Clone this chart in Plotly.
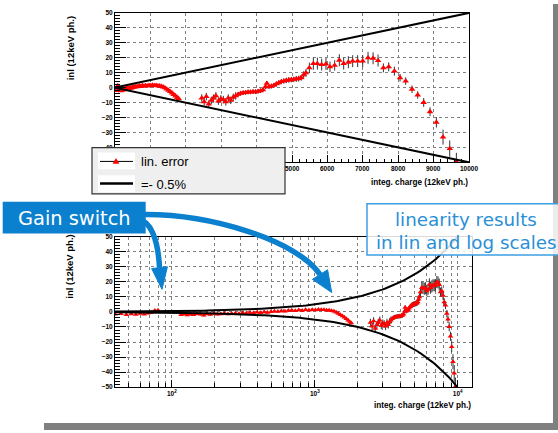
import numpy as np
import plotly.graph_objects as go

W, H = 558, 433

# ---------------- data ----------------
charge = [
    40, 44, 48, 52, 56, 60, 64, 68, 72, 76, 80,
    116, 122, 128, 135, 142, 150, 158, 167, 176, 186, 197, 208, 220, 233, 247,
    262, 278, 295, 313, 332, 352, 373, 395, 418, 442, 467, 494, 522, 552, 584,
    618, 653, 690, 730, 772, 816, 862, 910, 960, 1010, 1060, 1110, 1160, 1210,
    1260, 1310, 1360, 1410, 1460, 1510, 1560, 1610, 1660, 1710, 1760, 1800,
    2450, 2520, 2580, 2650, 2720, 2780, 2850, 2920, 2990, 3060, 3130, 3200,
    3270, 3340, 3410, 3480, 3550, 3620, 3690, 3760, 3830, 3900, 3970, 4040,
    4110, 4180, 4250, 4290, 4350, 4420, 4490, 4560, 4630, 4700, 4770, 4840,
    4910, 4980, 5050, 5120, 5190, 5260, 5330, 5394,
    5490, 5603, 5716, 5838, 5960, 6073, 6205, 6337, 6460, 6592, 6714, 6855,
    6997, 7148, 7290, 7431, 7582, 7732, 7892, 8052, 8212, 8391, 8551, 8720,
    8899, 9078, 9266, 9455, 9643,
]
inl = [
    -1.6, -1.2, -1.9, -1.4, -1.7, -1.1, -1.5, -0.9, -0.4, 0.9, 1.2,
    -1.8, -1.3, -2.0, -1.5, -1.9, -1.2, -1.6, -2.2, -1.4, -1.7, -1.1, -1.5, -1.3, -0.9, -1.4,
    -1.0, -0.8, -1.2, -0.6, -0.9, -0.4, -0.7, -0.2, -0.5, 0.0, -0.3, 0.2, 0.4, 0.3, 0.7,
    0.5, 0.9, 1.1, 0.8, 1.3, 1.0, 1.4, 1.2, 1.5, 1.3, 1.6, 1.4, 1.5, 1.2,
    1.1, 0.8, 0.4, -0.2, -1.0, -1.8, -2.7, -3.6, -4.6, -5.6, -6.6, -7.4,
    -7.0, -9.5, -6.0, -11.0, -8.5, -7.0, -5.5, -9.0, -7.5, -8.0, -9.5, -7.0,
    -8.5, -6.5, -5.5, -4.5, -3.8, -3.5, -3.3, -3.0, -3.0, -2.8, -2.8, -2.5,
    -2.2, -1.5, 0.5, 2.9, 0.5, 1.0, 1.5, 2.5, 3.3, 4.0, 4.4, 4.8,
    5.1, 5.3, 5.5, 5.8, 6.0, 6.6, 8.5, 9.9,
    13.2, 16.1, 16.1, 15.4, 15.8, 13.9, 14.9, 18.3, 16.1, 17.0, 17.7, 17.7,
    17.7, 19.9, 19.6, 18.1, 13.2, 13.9, 11.0, 6.6, 4.4, -1.1, -4.9, -9.9,
    -16.1, -23.2, -33.1, -40.8, -49.6,
]
inl_err = [
    0.6, 0.6, 0.6, 0.6, 0.6, 0.6, 0.6, 0.6, 0.6, 0.6, 0.6,
    0.8, 0.8, 0.8, 0.8, 0.8, 0.8, 0.8, 0.8, 0.8, 0.8, 0.8, 0.8, 0.8, 0.8, 0.8,
    0.8, 0.8, 0.8, 0.8, 0.8, 0.8, 0.8, 0.8, 0.8, 0.8, 0.8, 0.8, 0.8, 0.8, 0.8,
    0.8, 0.8, 0.8, 0.8, 0.8, 0.8, 0.8, 0.8, 0.8, 0.8, 0.8, 0.8, 0.8, 0.8,
    0.8, 0.8, 0.8, 0.8, 0.8, 0.8, 0.8, 0.8, 0.8, 0.8, 0.8, 0.8,
    2.5, 2.5, 2.5, 2.5, 2.5, 2.5, 2.5, 2.5, 2.5, 2.5, 2.5, 2.5,
    2.5, 2.5, 2.5, 1.5, 1.5, 1.5, 1.5, 1.5, 1.5, 1.5, 1.5, 1.5,
    1.5, 1.5, 1.5, 1.5, 1.5, 1.5, 1.5, 1.5, 1.5, 1.5, 1.8, 1.8,
    1.8, 1.8, 1.8, 2.0, 2.0, 2.0, 2.5, 2.5,
    3.5, 4.0, 4.0, 4.0, 4.0, 3.5, 3.5, 4.0, 4.0, 4.0, 4.0, 4.0,
    4.0, 4.0, 4.0, 4.0, 3.0, 3.0, 3.0, 2.5, 2.5, 2.5, 2.5, 3.0,
    3.0, 3.5, 5.0, 5.5, 6.0,
]

band_pct = 0.5                       # the "=- 0.5%" reference band
lin_band_x = [0, 10000]
log_band_x = np.geomspace(30, 13000, 120)

lin_xticks = list(range(0, 10001, 1000))
lin_xlabels_visible = [5000, 6000, 7000, 8000, 9000, 10000]   # the others sit under the legend box
yticks = list(range(-50, 51, 10))
log_major = [100, 1000, 10000]
log_major_text = ["10<sup>2</sup>", "10<sup>3</sup>", "10<sup>4</sup>"]
log_minor = [m * 10 ** e for e in (1, 2, 3) for m in range(2, 10) if 40 <= m * 10 ** e <= 12000]

legend_labels = ["lin. error", "=- 0.5%"]
y_title = "inl (12keV ph.)"
x_title = "integ. charge (12keV ph.)"

# ---------------- helpers (pixel -> paper) ----------------
def px(x):
    return x / W

def py(y):
    return 1 - y / H

def path(cmds):
    out = []
    for c in cmds:
        if isinstance(c, str):
            out.append(c)
        else:
            out.append(f"{px(c[0]):.5f},{py(c[1]):.5f}")
    return " ".join(out)

RED = "#ff0000"
BLUE = "#0b80cf"
GRID = "#808080"
FONT = "Liberation Sans"

band_lin_up = [band_pct / 100 * v for v in lin_band_x]
band_lin_dn = [-band_pct / 100 * v for v in lin_band_x]
band_log_up = band_pct / 100 * log_band_x
band_log_dn = -band_pct / 100 * log_band_x

fig = go.Figure()

err_style = dict(type="data", array=inl_err, visible=True, color="#333333", thickness=1, width=0)

fig.add_trace(go.Scatter(x=charge, y=inl, mode="markers", error_y=err_style,
                         marker=dict(symbol="triangle-up", size=5.8, color=RED, line=dict(width=0)),
                         xaxis="x", yaxis="y", showlegend=False))
fig.add_trace(go.Scatter(x=lin_band_x, y=band_lin_up, mode="lines", line=dict(color="black", width=2),
                         xaxis="x", yaxis="y", showlegend=False))
fig.add_trace(go.Scatter(x=lin_band_x, y=band_lin_dn, mode="lines", line=dict(color="black", width=2),
                         xaxis="x", yaxis="y", showlegend=False))

fig.add_trace(go.Scatter(x=charge, y=inl, mode="markers", error_y=err_style,
                         marker=dict(symbol="triangle-up", size=5, color=RED, line=dict(width=0)),
                         xaxis="x2", yaxis="y2", showlegend=False))
fig.add_trace(go.Scatter(x=log_band_x, y=band_log_up, mode="lines", line=dict(color="black", width=2),
                         xaxis="x2", yaxis="y2", showlegend=False))
fig.add_trace(go.Scatter(x=log_band_x, y=band_log_dn, mode="lines", line=dict(color="black", width=2),
                         xaxis="x2", yaxis="y2", showlegend=False))

tickfont = dict(family=FONT, size=6.5, color="black", weight="bold")
common = dict(showline=True, linecolor="black", linewidth=1, mirror=True, zeroline=False,
              showgrid=True, gridcolor=GRID, griddash="dot", gridwidth=1,
              ticks="inside", tickcolor="black", tickfont=tickfont)

fig.update_layout(
    width=W, height=H, margin=dict(l=0, r=0, t=0, b=0),
    paper_bgcolor="white", plot_bgcolor="white", showlegend=False,
    xaxis=dict(domain=[px(115), px(469)], range=[0, 10000], tickmode="array", tickvals=lin_xticks,
               showticklabels=False, ticklen=7, anchor="y",
               minor=dict(dtick=200, ticklen=3, ticks="inside", tickcolor="black", showgrid=False), **common),
    yaxis=dict(domain=[py(161), py(9)], range=[-50, 50], tickmode="array", tickvals=yticks,
               ticklen=11, anchor="x",
               minor=dict(dtick=2, ticklen=5, ticks="inside", tickcolor="black", showgrid=False), **common),
    xaxis2=dict(domain=[px(115), px(472)], type="log", range=[np.log10(40), 4.1],
                tickmode="array", tickvals=log_major, ticktext=log_major_text, ticklen=7, anchor="y2",
                minor=dict(tickmode="array", tickvals=log_minor, ticklen=4, ticks="inside",
                           tickcolor="black", showgrid=True, gridcolor=GRID, griddash="dot"),
                **common),
    yaxis2=dict(domain=[py(389.5), py(236.5)], range=[-50, 50], tickmode="array", tickvals=yticks,
                ticklen=11, anchor="x2",
                minor=dict(dtick=2, ticklen=5, ticks="inside", tickcolor="black", showgrid=False), **common),
)

shapes = []
# slide shadow
shapes.append(dict(type="rect", xref="paper", yref="paper", x0=px(553), x1=px(558), y0=py(428), y1=py(0),
                   fillcolor="#808080", line=dict(width=0), layer="below"))
shapes.append(dict(type="rect", xref="paper", yref="paper", x0=px(44), x1=px(558), y0=py(433), y1=py(426),
                   fillcolor="#808080", line=dict(width=0), layer="below"))
# legend box
shapes.append(dict(type="rect", xref="paper", yref="paper", x0=px(92), x1=px(285), y0=py(193), y1=py(146),
                   fillcolor="#efefef", line=dict(color="#333333", width=1.2), layer="above"))
shapes.append(dict(type="rect", xref="paper", yref="paper", x0=px(98), x1=px(135), y0=py(168), y1=py(151),
                   fillcolor="white", line=dict(width=0), layer="above"))
shapes.append(dict(type="rect", xref="paper", yref="paper", x0=px(98), x1=px(135), y0=py(191), y1=py(174),
                   fillcolor="white", line=dict(width=0), layer="above"))
shapes.append(dict(type="line", xref="paper", yref="paper", x0=px(100), x1=px(133), y0=py(160), y1=py(160),
                   line=dict(color="black", width=1), layer="above"))
shapes.append(dict(type="path", xref="paper", yref="paper",
                   path=path(["M", (116, 156.5), "L", (112.6, 162.5), "L", (119.4, 162.5), "Z"]),
                   fillcolor=RED, line=dict(width=0), layer="above"))
shapes.append(dict(type="line", xref="paper", yref="paper", x0=px(100), x1=px(133), y0=py(182.5), y1=py(182.5),
                   line=dict(color="black", width=2.5), layer="above"))
# arrows
shapes.append(dict(type="path", xref="paper", yref="paper",
                   path=path(["M", (138, 219), "C", (150, 220), (158, 238), (159.5, 268)]),
                   line=dict(color=BLUE, width=5.5), layer="above"))
shapes.append(dict(type="path", xref="paper", yref="paper",
                   path=path(["M", (151.6, 268.9), "L", (167.4, 267.1), "L", (162, 290), "Z"]),
                   fillcolor=BLUE, line=dict(color=BLUE, width=1), layer="above"))
shapes.append(dict(type="path", xref="paper", yref="paper",
                   path=path(["M", (138, 214), "C", (210, 212), (298, 241), (320, 275)]),
                   line=dict(color=BLUE, width=5.5), layer="above"))
shapes.append(dict(type="path", xref="paper", yref="paper",
                   path=path(["M", (312.4, 279.9), "L", (327.6, 270.1), "L", (331.7, 293.3), "Z"]),
                   fillcolor=BLUE, line=dict(color=BLUE, width=1), layer="above"))
# Gain switch box
shapes.append(dict(type="rect", xref="paper", yref="paper", x0=px(2.7), x1=px(145.7), y0=py(233.3), y1=py(201),
                   fillcolor=BLUE, line=dict(width=0), layer="above"))
# linearity box
shapes.append(dict(type="rect", xref="paper", yref="paper", x0=px(367), x1=px(580), y0=py(255), y1=py(203),
                   fillcolor="rgba(255,255,255,0.85)", line=dict(color="#3c9fe2", width=1.5), layer="above"))
fig.update_layout(shapes=shapes)

ann = []
def txt(text, x, y, size, color="black", xanchor="center", yanchor="middle", angle=0, weight="normal",
        family=FONT, xref="paper"):
    ann.append(dict(text=text, x=(x if xref != "paper" else px(x)), y=py(y), xref=xref, yref="paper",
                    showarrow=False, xanchor=xanchor, yanchor=yanchor, textangle=angle, borderpad=0,
                    font=dict(family=family, size=size, color=color, weight=weight)))

# visible tick labels of the linear x axis (placed through the axis scale)
for v in lin_xlabels_visible:
    txt(str(v), v, 167, 6.5, weight="bold", xref="x")

txt(y_title, 70, 45, 9.5, angle=-90, weight="bold")
txt(y_title, 70, 267, 9.5, angle=-90, weight="bold")
txt(x_title, 469, 181, 8.2, xanchor="right", weight="bold")
txt(x_title, 472, 408, 8.2, xanchor="right", weight="bold")
txt(legend_labels[0], 140, 160, 13, xanchor="left")
txt(legend_labels[1], 140, 183, 13, xanchor="left")
txt("Gain switch", 74, 218, 19.4, color="white", family="DejaVu Sans")
txt("linearity results", 466, 219.5, 18.3, color="#2a8fd6", family="DejaVu Sans")
txt("in lin and log scales", 466, 242, 18.3, color="#2a8fd6", family="DejaVu Sans")
fig.update_layout(annotations=ann)

fig.write_html("out.html")
